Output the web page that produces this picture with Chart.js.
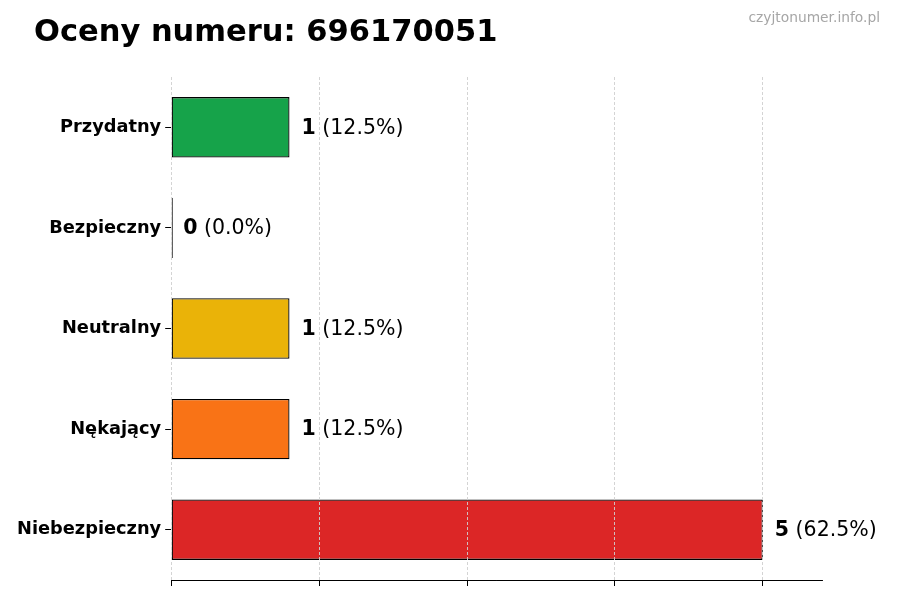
<!DOCTYPE html>
<html lang="pl">
<head>
<meta charset="UTF-8">
<title>Oceny numeru</title>
<script src="https://cdn.jsdelivr.net/npm/chart.js"></script>
<style>
    html, body { margin: 0; padding: 0; background: #fff; }
    #wrap { position: relative; width: 900px; height: 600px; }
</style>
</head>
<body>
<div id="wrap"><canvas id="ocenyChart" width="900" height="600"></canvas></div>
<script>
    // dane z wykresu
    const kategorie = ["Przydatny", "Bezpieczny", "Neutralny", "Nękający", "Niebezpieczny"];
    const liczby = [1, 0, 1, 1, 5];
    const procenty = ["12.5%", "0.0%", "12.5%", "12.5%", "62.5%"];
    const kolory = ["#16a34a", "#16a34a", "#eab308", "#f97316", "#dc2626"];
    const tytul = "Oceny numeru: 696170051";
    const znakWodny = "czyjtonumer.info.pl";

    const FONT = "'DejaVu Sans', sans-serif";

    // tytul + znak wodny
    const napisy = {
        id: 'napisy',
        afterDraw(chart) {
            const ctx = chart.ctx;
            ctx.save();
            ctx.fillStyle = '#000';
            ctx.font = "bold 30.5px " + FONT;
            ctx.textAlign = 'left';
            ctx.textBaseline = 'alphabetic';
            ctx.fillText(tytul, 34, 41);
            ctx.fillStyle = '#a6a6a6';
            ctx.font = "13.8px " + FONT;
            ctx.textAlign = 'right';
            ctx.fillText(znakWodny, 880, 22);
            ctx.restore();
        }
    };

    // etykiety przy slupkach: "1 (12.5%)"
    const etykiety = {
        id: 'etykiety',
        afterDatasetsDraw(chart) {
            const ctx = chart.ctx;
            const meta = chart.getDatasetMeta(0);
            const xs = chart.scales.x;
            ctx.save();
            ctx.textBaseline = 'middle';
            ctx.textAlign = 'left';
            ctx.fillStyle = '#000';
            meta.data.forEach((bar, i) => {
                let x = xs.getPixelForValue(liczby[i]) + 12;
                const y = bar.y + 1;
                const a = String(liczby[i]);
                ctx.font = "bold 20.5px " + FONT;
                ctx.fillText(a, x, y);
                x += ctx.measureText(a).width;
                ctx.font = "20.5px " + FONT;
                ctx.fillText(" (" + procenty[i] + ")", x, y);
            });
            ctx.restore();
        }
    };

    new Chart(document.getElementById('ocenyChart').getContext('2d'), {
        type: 'bar',
        data: {
            labels: kategorie,
            datasets: [{
                data: liczby,
                backgroundColor: kolory,
                borderColor: '#000',
                borderWidth: 1.3,
                borderSkipped: false,
                minBarLength: 1.6,
                barPercentage: 0.6,
                categoryPercentage: 1.0
            }]
        },
        options: {
            indexAxis: 'y',
            responsive: false,
            animation: false,
            devicePixelRatio: 1,
            layout: { padding: { left: 13, right: 78, top: 77, bottom: 14 } },
            plugins: {
                legend: { display: false },
                tooltip: { enabled: false },
                title: { display: false }
            },
            scales: {
                x: {
                    min: 0,
                    max: 5.5,
                    afterBuildTicks: (s) => {
                        s.ticks = [0, 1.25, 2.5, 3.75, 5].map(v => ({ value: v }));
                    },
                    ticks: { display: false },
                    grid: {
                        color: '#cfcfcf',
                        lineWidth: 0.9,
                        z: 1,
                        drawTicks: true,
                        tickLength: 6,
                        tickColor: '#000',
                        tickWidth: 1,
                        tickBorderDash: []
                    },
                    border: { display: true, color: '#000', width: 1, dash: [3, 2], z: 2 }
                },
                y: {
                    ticks: {
                        color: '#000',
                        padding: 4,
                        font: { family: FONT, size: 17.8, weight: 'bold' }
                    },
                    grid: {
                        offset: false,
                        drawOnChartArea: false,
                        drawTicks: true,
                        tickLength: 6,
                        tickColor: '#000',
                        tickWidth: 1
                    },
                    border: { display: false }
                }
            }
        },
        plugins: [napisy, etykiety]
    });
</script>
</body>
</html>
